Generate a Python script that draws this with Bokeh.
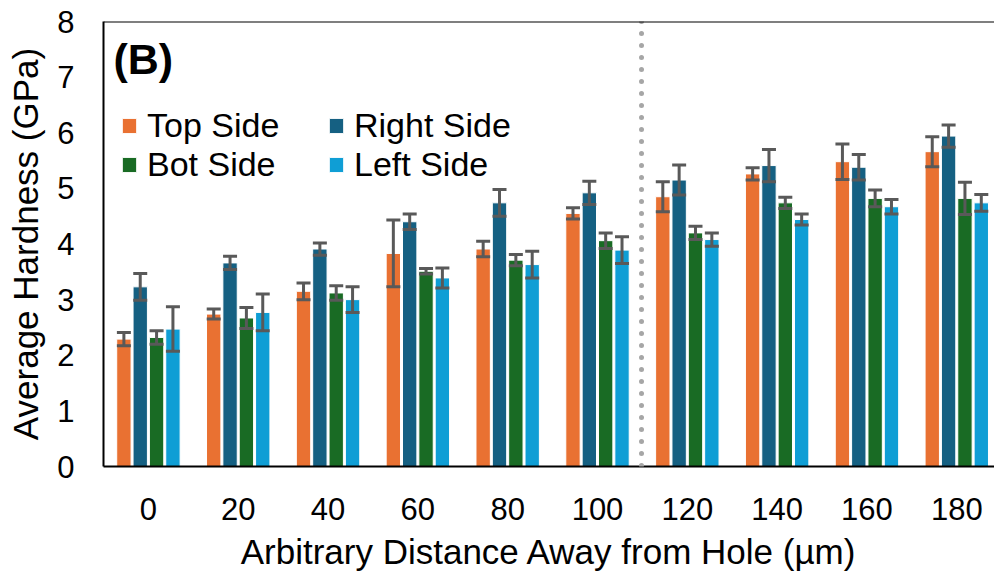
from bokeh.plotting import figure
from bokeh.models import (ColumnDataSource, Range1d, FixedTicker, Span, Legend, LegendItem,
                          Whisker, TeeHead, Label)
from bokeh.transform import dodge
from bokeh.embed import file_html
from bokeh.resources import INLINE

categories = ["0", "20", "40", "60", "80", "100", "120", "140", "160", "180"]
top_side = [2.29, 2.74, 3.15, 3.83, 3.91, 4.55, 4.85, 5.26, 5.48, 5.66]
top_err = [0.12, 0.09, 0.15, 0.60, 0.14, 0.10, 0.27, 0.11, 0.32, 0.27]
right_side = [3.23, 3.66, 3.91, 4.40, 4.74, 4.92, 5.15, 5.41, 5.38, 5.94]
right_err = [0.24, 0.12, 0.11, 0.14, 0.24, 0.21, 0.27, 0.29, 0.23, 0.20]
bot_side = [2.32, 2.67, 3.12, 3.51, 3.71, 4.06, 4.20, 4.74, 4.82, 4.82]
bot_err = [0.12, 0.19, 0.13, 0.05, 0.10, 0.14, 0.12, 0.10, 0.15, 0.29]
left_side = [2.47, 2.77, 3.00, 3.39, 3.63, 3.89, 4.08, 4.44, 4.67, 4.74]
left_err = [0.40, 0.33, 0.23, 0.18, 0.24, 0.24, 0.12, 0.10, 0.13, 0.15]
y_ticks = [0, 1, 2, 3, 4, 5, 6, 7, 8]
divider_at = 5.49  # between "100" and "120"

FONT = "Liberation Sans"

series = [
    ("Top Side", top_side, top_err, "#E97132", -0.273),
    ("Right Side", right_side, right_err, "#156082", -0.091),
    ("Bot Side", bot_side, bot_err, "#196B24", 0.091),
    ("Left Side", left_side, left_err, "#0F9ED5", 0.273),
]

p = figure(width=994, height=577, output_backend="svg", toolbar_location=None,
           x_range=Range1d(-0.5, 9.42), y_range=Range1d(0, 8),
           min_border_left=103, min_border_right=0, min_border_top=21, min_border_bottom=111)
p.outline_line_color = None
p.background_fill_color = "white"
p.xgrid.grid_line_color = None
p.ygrid.grid_line_color = None

idx = list(range(len(categories)))
items = []
for name, vals, errs, color, off in series:
    src = ColumnDataSource(dict(
        idx=idx, val=vals,
        upper=[v + e for v, e in zip(vals, errs)],
        lower=[v - e for v, e in zip(vals, errs)],
    ))
    r = p.vbar(x=dodge("idx", off, range=p.x_range), top="val", width=0.16, source=src,
               fill_color=color, line_color="white", line_width=1)
    items.append(LegendItem(label=name, renderers=[r]))
    w = Whisker(base=dodge("idx", off, range=p.x_range), upper="upper", lower="lower", source=src,
                line_color="#595959", line_width=3, level="annotation",
                upper_head=TeeHead(size=14, line_color="#595959", line_width=3),
                lower_head=TeeHead(size=14, line_color="#595959", line_width=3))
    p.add_layout(w)

# dotted divider
p.add_layout(Span(location=divider_at, dimension="height", line_color="#A6A6A6",
                  line_width=5, line_dash="0 12", line_cap="round"))
# top border
p.add_layout(Span(location=8, dimension="width", line_color="black", line_width=2))

# axes
xa = p.xaxis[0]
xa.ticker = FixedTicker(ticks=idx)
xa.major_label_overrides = {i: c for i, c in zip(idx, categories)}
xa.axis_label = "Arbitrary Distance Away from Hole (µm)"
ya = p.yaxis[0]
ya.ticker = FixedTicker(ticks=y_ticks)
ya.axis_label = "Average Hardness (GPa)"
for ax in (xa, ya):
    ax.axis_line_color = "black"
    ax.axis_line_width = 2
    ax.major_tick_line_color = None
    ax.minor_tick_line_color = None
    ax.major_tick_out = 0
    ax.major_tick_in = 0
    ax.major_label_text_font = FONT
    ax.major_label_text_font_size = "31px"
    ax.major_label_text_color = "black"
    ax.axis_label_text_font = FONT
    ax.axis_label_text_font_style = "normal"
    ax.axis_label_text_color = "black"
xa.major_label_standoff = 31
xa.axis_label_standoff = 9
xa.axis_label_text_font_size = "35px"
ya.major_label_standoff = 29
ya.axis_label_standoff = 9
ya.axis_label_text_font_size = "35px"

legend = Legend(items=items, location=(17, 282), orientation="horizontal", ncols=2,
                glyph_width=18, glyph_height=19, label_standoff=9, label_width=180,
                label_height=36, spacing=0, padding=0, margin=0,
                label_text_font=FONT, label_text_font_size="34px", label_text_color="black",
                border_line_color=None, background_fill_alpha=0)
p.add_layout(legend, "center")

p.add_layout(Label(x=10, y=408, x_units="screen", y_units="screen", text="(B)",
                   text_font=FONT, text_font_size="43px", text_font_style="bold",
                   text_color="black", text_baseline="alphabetic"))

open("out.html", "w").write(file_html(p, INLINE))
